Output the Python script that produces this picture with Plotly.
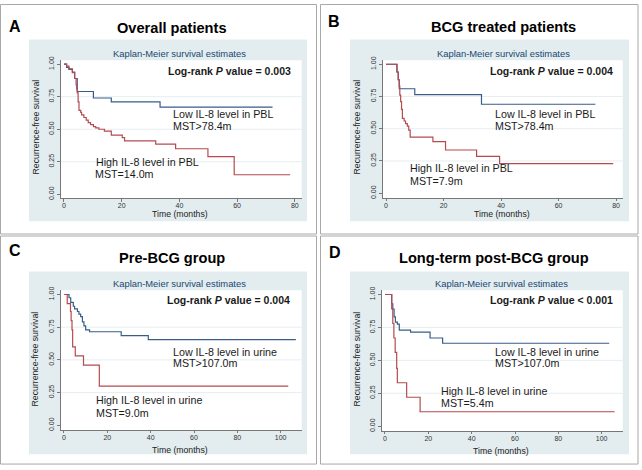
import plotly.graph_objects as go

W, H = 642, 470

# ---------------- data ----------------
# Panel A: Overall patients (IL-8 in PBL)
a_low_t = [0, 0.9, 1.7, 2.9, 3.7, 4.6, 10.2, 16.4, 33.3, 72.3]
a_low_s = [1.0, 0.975, 0.96, 0.94, 0.89, 0.79, 0.74, 0.71, 0.67, 0.67]
a_high_t = [0, 0.9, 1.7, 2.9, 3.7, 4.2, 4.4, 4.6, 4.9, 5.2, 5.8, 6.1, 6.9, 7.7, 8.4, 9.2,
            10.2, 11.0, 12.1, 14.0, 16.4, 20.2, 21.0, 31.8, 38.7, 49.9, 59.0, 78.4]
a_high_s = [1.0, 0.985, 0.965, 0.935, 0.89, 0.84, 0.81, 0.78, 0.71, 0.645, 0.63, 0.61, 0.59,
            0.57, 0.55, 0.535, 0.52, 0.51, 0.50, 0.485, 0.455, 0.435, 0.41, 0.385, 0.35, 0.29,
            0.15, 0.15]

# Panel B: BCG treated patients (IL-8 in PBL)
b_low_t = [0, 3.8, 4.25, 4.6, 10.0, 33.2, 72.8]
b_low_s = [1.0, 0.94, 0.88, 0.81, 0.765, 0.69, 0.69]
b_high_t = [0, 3.8, 4.25, 4.6, 4.8, 5.1, 5.4, 5.7, 6.3, 6.8, 7.4, 7.9, 8.4, 16.3, 20.7,
            31.5, 39.5, 79.0]
b_high_s = [1.0, 0.94, 0.88, 0.83, 0.76, 0.71, 0.65, 0.58, 0.56, 0.54, 0.52, 0.49, 0.435,
            0.40, 0.335, 0.285, 0.23, 0.23]

# Panel C: Pre-BCG group (IL-8 in urine)
c_low_t = [0, 2.3, 3.1, 4.3, 4.9, 6.2, 6.9, 7.7, 8.5, 9.2, 10.0, 11.8, 26.4, 38.9, 107.0]
c_low_s = [1.0, 0.975, 0.94, 0.91, 0.89, 0.87, 0.85, 0.83, 0.79, 0.76, 0.73, 0.715, 0.685,
           0.655, 0.655]
c_high_t = [0, 1.5, 3.0, 3.3, 3.7, 4.0, 5.2, 9.0, 16.3, 103.5]
c_high_s = [1.0, 0.93, 0.87, 0.80, 0.73, 0.60, 0.53, 0.46, 0.30, 0.30]

# Panel D: Long-term post-BCG group (IL-8 in urine)
d_low_t = [0, 3.1, 3.6, 4.2, 4.8, 5.7, 6.6, 11.8, 20.8, 26.6, 103.5]
d_low_s = [1.0, 0.93, 0.89, 0.83, 0.79, 0.775, 0.73, 0.715, 0.67, 0.63, 0.63]
d_high_t = [0, 3.1, 3.6, 4.1, 4.7, 5.4, 5.7, 10.0, 16.2, 106.0]
d_high_s = [1.0, 0.89, 0.78, 0.67, 0.56, 0.44, 0.33, 0.22, 0.11, 0.11]

y_tick_vals = [0, 0.25, 0.5, 0.75, 1.0]
y_tick_text = ["0.00", "0.25", "0.50", "0.75", "1.00"]
x_ticks_pbl = [0, 20, 40, 60, 80]
x_ticks_urine = [0, 20, 40, 60, 80, 100]

letters = ["A", "B", "C", "D"]
titles = ["Overall patients", "BCG treated patients", "Pre-BCG group", "Long-term post-BCG group"]
pvals = ["= 0.003", "= 0.004", "= 0.004", "< 0.001"]
low_labels = ["Low IL-8 level in PBL", "Low IL-8 level in PBL",
              "Low IL-8 level in urine", "Low IL-8 level in urine"]
low_mst = ["MST>78.4m", "MST>78.4m", "MST>107.0m", "MST>107.0m"]
high_labels = ["High IL-8 level in PBL", "High IL-8 level in PBL",
               "High IL-8 level in urine", "High IL-8 level in urine"]
high_mst = ["MST=14.0m", "MST=7.9m", "MST=9.0m", "MST=5.4m"]
subtitle = "Kaplan-Meier survival estimates"
y_title = "Recurrence-free survival"
x_title = "Time (months)"

series = [(a_low_t, a_low_s, a_high_t, a_high_s),
          (b_low_t, b_low_s, b_high_t, b_high_s),
          (c_low_t, c_low_s, c_high_t, c_high_s),
          (d_low_t, d_low_s, d_high_t, d_high_s)]

# ---------------- layout geometry (pixels) ----------------
def fx(px):
    return px / W

def fy(py):
    return 1 - py / H

panels = [
    dict(xdom=(60.7, 301.7), ydom=(57, 196.7), xr=(-1.14, 82.4), yr=(-0.030, 1.030),
         xt=x_ticks_pbl, box=(29, 36, 307, 220), frame=(0.5, 0.5, 316.5, 233),
         letter=(15, 23), title=(172, 24), sub=(180, 50), ytit=(36, 125), xtit=(180, 213),
         logrank=(165.5, 67.5), low=(171, 111.5, 124), high=(93.5, 160, 172)),
    dict(xdom=(382.7, 622.7), ydom=(57, 196.5), xr=(-1.15, 82.3), yr=(-0.037, 1.031),
         xt=x_ticks_pbl, box=(350, 36, 629, 220), frame=(320.5, 0.5, 638, 233),
         letter=(334, 18), title=(503.5, 23.5), sub=(503, 50), ytit=(357, 125), xtit=(502, 213),
         logrank=(488, 68), low=(492.5, 111.5, 124), high=(407.7, 166.5, 179)),
    dict(xdom=(60.7, 301.7), ydom=(290, 431.5), xr=(-1.52, 109.7), yr=(-0.036, 1.032),
         xt=x_ticks_urine, box=(29, 271, 307, 456), frame=(0.5, 235, 316.5, 466),
         letter=(15, 250), title=(172, 257), sub=(180, 283), ytit=(35, 360), xtit=(180, 451.5),
         logrank=(165, 300), low=(170.5, 352, 364), high=(94, 401.5, 414.5)),
    dict(xdom=(381.7, 622.7), ydom=(290, 432.5), xr=(-1.52, 109.7), yr=(-0.036, 1.032),
         xt=x_ticks_urine, box=(350, 271, 629, 456), frame=(320.5, 235, 638, 466),
         letter=(335, 252), title=(494.5, 257), sub=(501, 283), ytit=(357, 360), xtit=(501, 452.5),
         logrank=(487.5, 300), low=(492.7, 352, 364), high=(438.7, 392, 404)),
]

FONT = "Liberation Sans, Arial, sans-serif"
BLUE = "#385d88"
RED = "#b54a4f"
BOX = "#e3edef"
NAVY = "#1a476f"
TXT = "#1a1a1a"

fig = go.Figure()
shapes = []
annotations = []
layout_axes = {}

for i, p in enumerate(panels):
    k = "" if i == 0 else str(i + 1)
    xa, ya = "x" + k, "y" + k
    lt, ls, ht, hs = series[i]

    fig.add_trace(go.Scatter(x=lt, y=ls, mode="lines", line=dict(color=BLUE, width=1.2, shape="hv"),
                             xaxis=xa, yaxis=ya, showlegend=False, hoverinfo="skip"))
    fig.add_trace(go.Scatter(x=ht, y=hs, mode="lines", line=dict(color=RED, width=1.2, shape="hv"),
                             xaxis=xa, yaxis=ya, showlegend=False, hoverinfo="skip"))

    layout_axes["xaxis" + k] = dict(
        domain=[fx(p["xdom"][0]), fx(p["xdom"][1])], range=list(p["xr"]), anchor=ya,
        tickmode="array", tickvals=p["xt"], ticktext=[str(v) for v in p["xt"]],
        ticks="outside", ticklen=2.5, tickcolor="#777", tickwidth=1, ticklabelstandoff=-2,
        showline=True, linecolor="#777", linewidth=1, showgrid=False, zeroline=False,
        tickfont=dict(family=FONT, size=7, color="#333"), fixedrange=True)
    layout_axes["yaxis" + k] = dict(
        domain=[fy(p["ydom"][1]), fy(p["ydom"][0])], range=list(p["yr"]), anchor=xa,
        tickmode="array", tickvals=y_tick_vals, ticktext=y_tick_text, tickangle=-90,
        ticks="outside", ticklen=2.5, tickcolor="#777", tickwidth=1,
        showline=True, linecolor="#777", linewidth=1, showgrid=False, zeroline=False,
        tickfont=dict(family=FONT, size=7, color="#333"), fixedrange=True)

    # frame, light box, white plot region
    x0, y0, x1, y1 = p["frame"]
    shapes.append(dict(type="rect", xref="paper", yref="paper", x0=fx(x0), x1=fx(x1),
                       y0=fy(y1), y1=fy(y0), line=dict(color="#a8a8a8", width=1),
                       fillcolor="rgba(0,0,0,0)", layer="below"))
    bx0, by0, bx1, by1 = p["box"]
    shapes.append(dict(type="rect", xref="paper", yref="paper", x0=fx(bx0), x1=fx(bx1),
                       y0=fy(by1), y1=fy(by0), line=dict(width=0), fillcolor=BOX, layer="below"))
    shapes.append(dict(type="rect", xref="paper", yref="paper", x0=fx(p["xdom"][0]),
                       x1=fx(p["xdom"][1]), y0=fy(p["ydom"][1]), y1=fy(p["ydom"][0]),
                       line=dict(width=0), fillcolor="white", layer="below"))
    for gv in [0.25, 0.5, 0.75]:
        shapes.append(dict(type="line", xref=xa + " domain", yref=ya, x0=0, x1=1, y0=gv, y1=gv,
                           line=dict(color="#e6eef0", width=1), layer="below"))

    # texts
    annotations.append(dict(text="<b>%s</b>" % letters[i], x=fx(p["letter"][0]), y=fy(p["letter"][1]),
                            xref="paper", yref="paper", showarrow=False, xanchor="center",
                            yanchor="middle", font=dict(family=FONT, size=16, color="black")))
    annotations.append(dict(text="<b>%s</b>" % titles[i], x=fx(p["title"][0]), y=fy(p["title"][1]),
                            xref="paper", yref="paper", showarrow=False, xanchor="center",
                            yanchor="middle", font=dict(family=FONT, size=14.6, color="black")))
    annotations.append(dict(text=subtitle, x=fx(p["sub"][0]), y=fy(p["sub"][1]),
                            xref="paper", yref="paper", showarrow=False, xanchor="center",
                            yanchor="middle", font=dict(family=FONT, size=9.4, color=NAVY)))
    annotations.append(dict(text=y_title, x=fx(p["ytit"][0]), y=fy(p["ytit"][1]), textangle=-90,
                            xref="paper", yref="paper", showarrow=False, xanchor="center",
                            yanchor="middle", font=dict(family=FONT, size=8.7, color="#222")))
    annotations.append(dict(text=x_title, x=fx(p["xtit"][0]), y=fy(p["xtit"][1]),
                            xref="paper", yref="paper", showarrow=False, xanchor="center",
                            yanchor="middle", font=dict(family=FONT, size=8.7, color="#222")))
    annotations.append(dict(text="<b>Log-rank <i>P</i> value %s</b>" % pvals[i],
                            x=fx(p["logrank"][0]), y=fy(p["logrank"][1]),
                            xref="paper", yref="paper", showarrow=False, xanchor="left",
                            yanchor="middle", font=dict(family=FONT, size=10.5, color=TXT)))
    lx, ly1, ly2 = p["low"]
    hx, hy1, hy2 = p["high"]
    for txt, xx, yy in [(low_labels[i], lx, ly1), (low_mst[i], lx, ly2),
                        (high_labels[i], hx, hy1), (high_mst[i], hx, hy2)]:
        annotations.append(dict(text=txt, x=fx(xx), y=fy(yy), xref="paper", yref="paper",
                                showarrow=False, xanchor="left", yanchor="middle",
                                font=dict(family=FONT, size=10.7, color=TXT)))

fig.update_layout(
    width=W, height=H, autosize=False,
    margin=dict(l=0, r=0, t=0, b=0),
    paper_bgcolor="white", plot_bgcolor="rgba(0,0,0,0)",
    shapes=shapes, annotations=annotations, showlegend=False,
    **layout_axes)

fig.write_html("out.html", config={"displayModeBar": False},
               post_script="document.body.style.margin='0';document.body.style.padding='0';")
